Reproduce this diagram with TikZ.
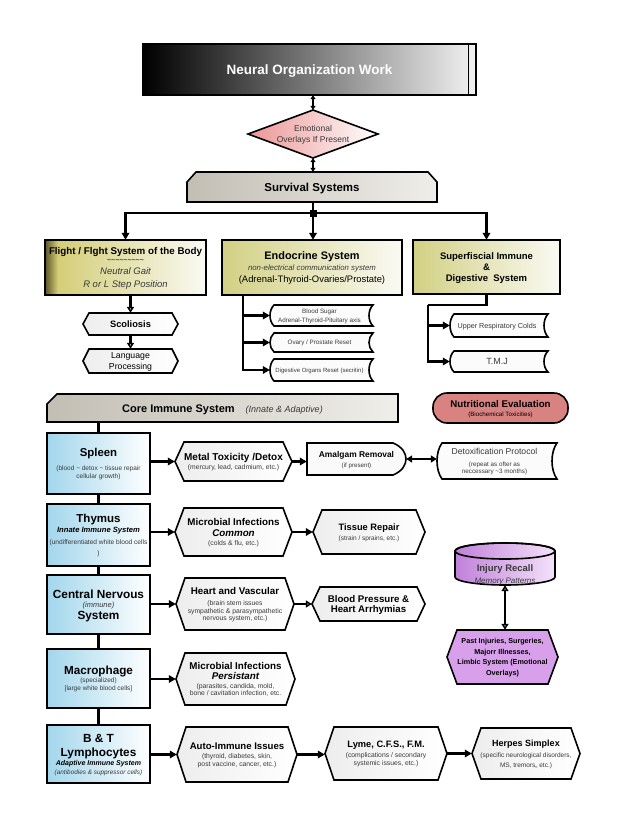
\documentclass[tikz,border=0pt]{standalone}
\usepackage{fontspec}
\setmainfont{Liberation Sans}
\usetikzlibrary{arrows.meta,calc}

\definecolor{olivedark}{HTML}{5C5426}
\definecolor{oliveA}{HTML}{D4CE78}
\definecolor{oliveB}{HTML}{D2D083}
\definecolor{creamW}{HTML}{FAFAF4}
\definecolor{blueA}{HTML}{A2D6EC}
\definecolor{greyA}{HTML}{C2BEB4}
\definecolor{greyB}{HTML}{F0EEEA}
\definecolor{pinkA}{HTML}{EC9494}
\definecolor{nutri}{HTML}{D98282}
\definecolor{purpA}{HTML}{C080DA}
\definecolor{purpB}{HTML}{F4E2FA}
\definecolor{purpC}{HTML}{D8A0EA}
\definecolor{subtxt}{HTML}{3A3A3A}

\pgfdeclarehorizontalshading{flightshade}{100bp}{color(0bp)=(olivedark); color(25bp)=(olivedark); color(29bp)=(oliveA); color(75bp)=(creamW); color(100bp)=(creamW)}

\newcommand\fsz[2]{\fontsize{#1}{#2}\selectfont}
% line helpers: {height = baseline gap}{size}{text}
\newcommand\lnB[3]{\raisebox{0pt}[#1pt][0pt]{\fsz{#2}{#2}\bfseries #3}}
\newcommand\lnR[3]{\raisebox{0pt}[#1pt][0pt]{\fsz{#2}{#2}#3}}
\newcommand\lnI[3]{\raisebox{0pt}[#1pt][0pt]{\fsz{#2}{#2}\itshape\color{subtxt}#3}}
\newcommand\lnBI[3]{\raisebox{0pt}[#1pt][0pt]{\fsz{#2}{#2}\bfseries\itshape #3}}
\newcommand\lnS[3]{\raisebox{0pt}[#1pt][0pt]{\fsz{#2}{#2}\color{subtxt}#3}}

% name x1 y1 x2 y2 inset style text
\newcommand\hexnode[8]{%
  \path[shapeline,#7] ({#2+#6},#3) -- ({#4-#6},#3) -- (#4,{(#3+#5)/2}) -- ({#4-#6},#5) -- ({#2+#6},#5) -- (#2,{(#3+#5)/2}) -- cycle;
  \node[boxtxt, minimum width={(#4-#2)*1pt}, minimum height={(#5-#3)*1pt}] (#1) at ({(#2+#4)/2},{(#3+#5)/2}) {#8};}
% name x1 y1 x2 y2 style text
\newcommand\rectnode[7]{%
  \path[shapeline,#6] (#2,#3) rectangle (#4,#5);
  \node[boxtxt, minimum width={(#4-#2)*1pt}, minimum height={(#5-#3)*1pt}] (#1) at ({(#2+#4)/2},{(#3+#5)/2}) {#7};}
% name x1 y1 x2 y2 bulge style text
\newcommand\storenode[8]{%
  \path[shapeline,#7] ({#2+#6},#3) -- (#4,#3) .. controls ({#4-4*#6/3},{#3+(#5-#3)/4}) and ({#4-4*#6/3},{#5-(#5-#3)/4}) .. (#4,#5) -- ({#2+#6},#5) .. controls ({#2-#6/3},{#5-(#5-#3)/4}) and ({#2-#6/3},{#3+(#5-#3)/4}) .. ({#2+#6},#3) -- cycle;
  \node[boxtxt, minimum width={(#4-#2)*1pt}, minimum height={(#5-#3)*1pt}] (#1) at ({(#2+#4)/2-#6/2},{(#3+#5)/2}) {#8};}

\begin{document}
\begin{tikzpicture}[x=1pt,y=-1pt,
  shapeline/.style={draw=black, line width=1.6pt, line join=miter},
  boxtxt/.style={inner sep=0pt, align=center, font={\fsz{6}{0pt}\lineskip=0pt\lineskiplimit=0pt}},
  conn/.style={line width=2.2pt, draw=black},
  arr/.style={conn,-{Triangle[length=7pt,width=7.5pt]}},
  oarr/.style={conn,-{Triangle[open,length=6pt,width=7pt]}},
  hexfill/.style={left color=gray!14, right color=white},
  blue/.style={left color=blueA, right color=white},
  olivebox/.style={left color=oliveB, right color=creamW},
  storefill/.style={fill=white!97!gray}]

\fill[white] (0,0) rectangle (624,828);
\useasboundingbox (0,0) rectangle (624,828);

% ---------- top ----------
\path[shapeline, left color=black, middle color=black, right color=gray!10] (143,44) rectangle (476,95);
\draw[black, line width=1pt] (468,45) -- (468,94);
\node[boxtxt, text=white, minimum width=333pt, minimum height=51pt] (now) at (309.5,69.5) {\lnB{9.7}{13.5}{Neural Organization Work}};

\path[shapeline, left color=pinkA, right color=white] (313,110) -- (378,134) -- (313,158) -- (248,134) -- cycle;
\node[boxtxt, minimum width=130pt, minimum height=48pt] (emo) at (313,134) {\lnS{6.2}{8.5}{Emotional}\\\lnS{10.5}{8.5}{Overlays If Present}};

\path[shapeline, left color=greyA, right color=greyB] (187,182) -- (196,172) -- (428,172) -- (437,182) -- (437,202) -- (187,202) -- cycle;
\node[boxtxt, minimum width=250pt, minimum height=30pt] (surv) at (312,187) {\lnB{8.3}{11.5}{Survival Systems}};

\coordinate (jn) at (313,213);

% ---------- survival systems ----------
\rectnode{flight}{45}{240}{206}{295}{shading=flightshade, shade}{%
  \lnB{7}{9.8}{Flight / Flght System of the Body}\\
  \lnS{8}{7}{\bfseries\textasciitilde\textasciitilde\textasciitilde\textasciitilde\textasciitilde\textasciitilde\textasciitilde\textasciitilde\textasciitilde}\\
  \lnI{12}{9.5}{Neutral Gait}\\
  \lnI{12.5}{9.5}{R or L Step Position}}

\rectnode{endo}{222}{240}{402}{295}{olivebox}{%
  \lnB{7.8}{10.9}{Endocrine System}\\
  \lnI{11}{7.8}{non-electrical communication system}\\
  \lnR{12}{9.4}{(Adrenal-Thyroid-Ovaries/Prostate)}}

\rectnode{super}{413}{240}{560}{294}{olivebox}{%
  \lnB{6.9}{9.5}{Superfiscial Immune}\\
  \lnB{11.3}{9.5}{\&}\\
  \lnB{11.3}{9.5}{Digestive\ \ System}}

\hexnode{scol}{83}{313}{178}{335}{6}{hexfill}{\lnB{6.7}{9.3}{Scoliosis}}
\hexnode{lang}{83}{349}{178}{373}{6}{hexfill}{\lnR{6.3}{8.7}{Language}\\\lnR{11}{8.7}{Processing}}

\storenode{bsug}{270}{305}{373}{326}{4}{storefill}{\lnS{4.6}{6.3}{Blood Sugar}\\\lnS{8.5}{6.3}{Adrenal-Thyroid-Pituitary axis}}
\storenode{ovary}{270}{333}{373}{352}{4}{storefill}{\lnS{4.6}{6.3}{Ovary / Prostate Reset}}
\storenode{diges}{270}{359}{373}{381}{4}{storefill}{\lnS{4.4}{6}{Digestive Organs Reset (secritin)}}

\storenode{urc}{450}{314}{548}{337}{4}{storefill}{\lnS{5.2}{7.2}{Upper Respiratory Colds}}
\storenode{tmj}{450}{351}{548}{372}{4}{storefill}{\lnS{6.5}{9}{T.M.J}}

% ---------- core immune ----------
\path[shapeline, left color=greyA, right color=greyB] (47,404) -- (57,394) -- (398,394) -- (398,422) -- (47,422) -- cycle;
\node[boxtxt, minimum width=351pt, minimum height=28pt] (core) at (222.5,408) {\lnR{8}{11}{\bfseries Core Immune System\quad{\fsz{9}{9}\mdseries\itshape\color{subtxt}(Innate \& Adaptive)}}};

\path[shapeline, fill=nutri, rounded corners=14pt] (433,393) rectangle (568,423);
\node[boxtxt, minimum width=135pt, minimum height=30pt] (nutr) at (500.5,408) {\lnB{7}{9.7}{Nutritional Evaluation}\\\lnR{9}{6.2}{(Biochemical Toxicities)}};

\rectnode{spleen}{47}{433}{150}{494}{blue}{%
  \lnB{8.2}{11.4}{Spleen}\\
  \lnS{14}{6.5}{(blood \textasciitilde{} detox \textasciitilde{} tissue repair}\\
  \lnS{8.5}{6.5}{cellular growth)}}
\rectnode{thymus}{47}{504}{150}{566}{blue}{%
  \lnB{8.3}{11.5}{Thymus}\\
  \lnBI{9.5}{7.6}{Innate Immune System}\\
  \lnS{12}{6.6}{(undifferentiated white blood cells}\\
  \lnS{11.5}{6.6}{)}}
\rectnode{cns}{47}{575}{150}{634}{blue}{%
  \lnB{8.5}{11.8}{Central Nervous}\\
  \lnI{9}{7.5}{(immune)}\\
  \lnB{12.3}{11.8}{System}}
\rectnode{macro}{47}{649}{150}{708}{blue}{%
  \lnB{8.4}{11.7}{Macrophage}\\
  \lnS{8.5}{6.5}{(specialized)}\\
  \lnS{8}{6.5}{[large white blood cells]}}
\rectnode{bt}{47}{725}{150}{783}{blue}{%
  \lnB{8.5}{11.8}{B \& T}\\
  \lnB{14}{11.8}{Lymphocytes}\\
  \lnBI{9}{7}{Adaptive Immune System}\\
  \lnI{9}{6.4}{(antibodies \& suppressor cells)}}

\hexnode{metal}{175}{442}{292}{481}{9}{hexfill}{\lnB{7.2}{10}{Metal Toxicity /Detox}\\\lnS{8.5}{6.8}{(mercury, lead, cadmium, etc.)}}
\hexnode{mcom}{175}{508}{292}{556}{9}{hexfill}{\lnB{7.1}{9.8}{Microbial Infections}\\\lnBI{11}{9.8}{Common}\\\lnS{9.5}{6.8}{(colds \& flu, etc.)}}
\hexnode{heart}{176}{578}{294}{630}{9}{hexfill}{\lnB{7.1}{9.8}{Heart and Vascular}\\\lnS{10.5}{6.8}{(brain stem issues}\\\lnS{8}{6.8}{sympathetic \& parasympathetic}\\\lnS{7.5}{6.8}{nervous system, etc.)}}
\hexnode{mper}{176}{653}{295}{705}{9}{hexfill}{\lnB{7.1}{9.8}{Microbial Infections}\\\lnBI{9.5}{9.8}{Persistant}\\\lnS{9}{6.8}{(parasites, candida, mold,}\\\lnS{7.5}{6.8}{bone / cavitation infection, etc.}}
\hexnode{auto}{177}{727}{297}{782}{9}{hexfill}{\lnB{7}{9.6}{Auto-Immune Issues}\\\lnS{9}{6.8}{(thyroid, diabetes, skin,}\\\lnS{7.5}{6.8}{post vaccine, cancer, etc.)}}

\path[shapeline, fill=white!96!gray] (307,443) -- (393,443) .. controls (403,447) and (406,454) .. (406,459) .. controls (406,464) and (403,471) .. (393,475) -- (307,475) -- cycle;
\node[boxtxt, minimum width=99pt, minimum height=32pt] (amal) at (356.5,459) {\lnB{6.1}{8.4}{Amalgam Removal}\\\lnS{10}{6.2}{(if present)}};

\storenode{detox}{437}{443}{557}{479}{5}{storefill}{\lnS{6.2}{8.6}{Detoxification Protocol}\\\lnS{12}{6.3}{(repeat as ofter as}\\\lnS{7.5}{6.3}{neccessary \textasciitilde3 months)}}

\hexnode{tissue}{313}{510}{425}{554}{9}{hexfill}{\lnB{6.7}{9.3}{Tissue Repair}\\\lnS{9.5}{6.5}{(strain / sprains, etc.)}}
\hexnode{bp}{312}{587}{425}{621}{8}{hexfill}{\lnB{7}{9.7}{Blood Pressure \&}\\\lnB{10.5}{9.7}{Heart Arrhymias}}
\hexnode{lyme}{325}{727}{447}{780}{9}{hexfill}{\lnB{6.8}{9.3}{Lyme, C.F.S., F.M.}\\\lnS{10}{6.8}{(complications / secondary}\\\lnS{8}{6.8}{systemic issues, etc.)}}
\hexnode{herpes}{472}{728}{580}{779}{9}{hexfill}{\lnB{6.5}{9}{Herpes Simplex}\\\lnS{11}{6.5}{(specific neurological disorders,}\\\lnS{10}{6.5}{MS, tremors,, etc.)}}

% cylinder
\path[shapeline, left color=purpA, right color=purpB] (455,551) -- (455,577) arc[start angle=180, end angle=360, x radius=50pt, y radius=8pt] -- (555,551) arc[start angle=0, end angle=180, x radius=50pt, y radius=8pt] -- cycle;
\draw[line width=1.6pt] (505,551) ellipse [x radius=50pt, y radius=8pt];
\node[inner sep=0pt, minimum width=100pt, minimum height=42pt] (inj) at (505,564) {};
\node[boxtxt] (injtxt) at (505,574) {\lnB{6.8}{9.5}{\color{subtxt}Injury Recall}\\\lnI{11.5}{8}{Memory Patterns}};

\hexnode{past}{447}{630}{558}{684}{10}{fill=purpC}{\lnB{5.2}{7.2}{Past Injuries, Surgeries,}\\\lnB{10.5}{7.2}{Majorr Illnesses,}\\\lnB{10.5}{7.2}{Limbic System (Emotional}\\\lnB{10.5}{7.2}{Overlays)}}

% ---------- connectors ----------
\draw[conn, line width=2pt, {Triangle[length=4pt,width=5pt]}-{Triangle[length=4pt,width=5pt]}] (now.south -| emo.north) -- (emo.north);
\draw[conn, line width=2pt, {Triangle[length=4pt,width=5pt]}-{Triangle[length=4pt,width=5pt]}] (emo.south) -- (emo.south |- surv.north);
\draw[conn] (surv.south -| jn) -- (jn);
\fill (jn) +(-3.5,-3.5) rectangle +(3.5,3.5);
\draw[arr] (jn) -| (flight.north);
\draw[arr] (jn) -- (jn |- endo.north);
\draw[arr] (jn) -| (super.north);

\draw[oarr] (flight.south -| scol.north) -- (scol.north);
\draw[oarr] (scol.south) -- (lang.north);

\coordinate (ebr) at (243,295);
\draw[arr] (ebr) |- ([xshift=2pt]bsug.west);
\draw[arr] (ebr) |- ([xshift=2pt]ovary.west);
\draw[arr] (ebr) |- ([xshift=2pt]diges.west);

\coordinate (sbr) at (428,305);
\draw[conn] (super.south) |- (sbr);
\draw[arr] (sbr) |- ([xshift=2pt]urc.west);
\draw[arr] (sbr) |- ([xshift=2pt]tmj.west);

\draw[conn] (core.south -| spleen.north) -- (spleen.north);
\draw[conn] (spleen.south) -- (thymus.north);
\draw[conn] (thymus.south) -- (cns.north);
\draw[conn] (cns.south) -- (macro.north);
\draw[conn] (macro.south) -- (bt.north);

\draw[arr] (spleen.east |- metal.west) -- (metal.west);
\draw[arr] (thymus.east |- mcom.west) -- (mcom.west);
\draw[arr] (cns.east |- heart.west) -- (heart.west);
\draw[arr] (macro.east |- mper.west) -- (mper.west);
\draw[arr] (bt.east |- auto.west) -- (auto.west);

\draw[arr] (metal.east) -- (metal.east -| amal.west);
\draw[conn, {Triangle[length=6pt,width=7pt]}-{Triangle[length=6pt,width=7pt]}] (amal.east) -- ([xshift=2.5pt]amal.east -| detox.west);
\draw[arr] (mcom.east) -- (mcom.east -| tissue.west);
\draw[oarr] (heart.east) -- (heart.east -| bp.west);
\draw[arr] (auto.east) -- (auto.east -| lyme.west);
\draw[arr] (lyme.east) -- (lyme.east -| herpes.west);

\draw[conn, {Triangle[open,length=6pt,width=7pt]}-{Triangle[open,length=6pt,width=7pt]}] (inj.south) -- (inj.south |- past.north);
\end{tikzpicture}
\end{document}
